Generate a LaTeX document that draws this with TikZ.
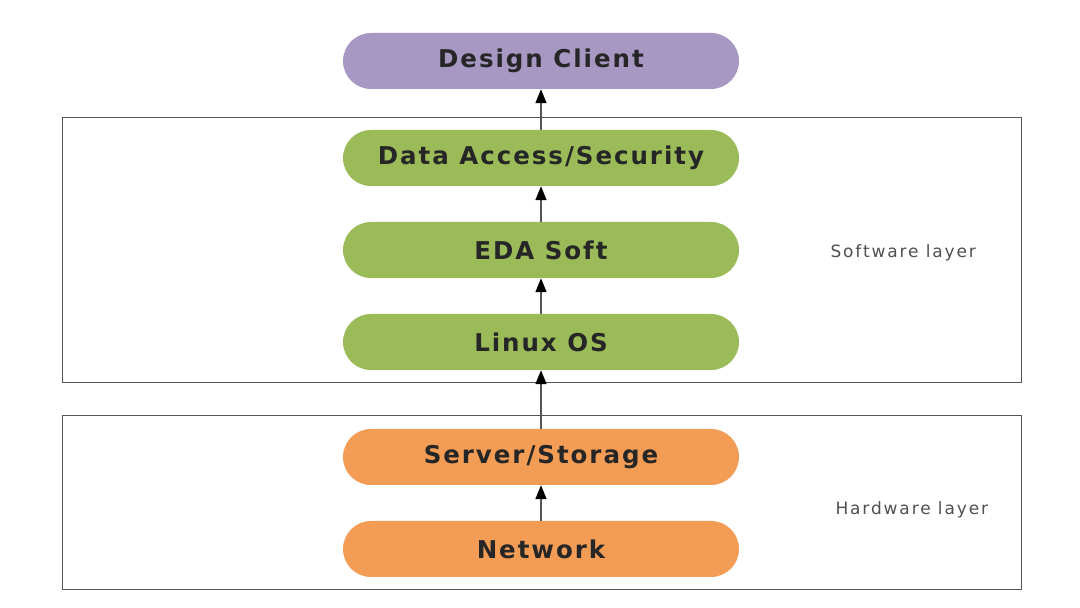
\documentclass[tikz,border=0pt]{standalone}
\usepackage{fontspec}
\setmainfont{DejaVu Sans}
\newfontfamily\pillfont[LetterSpace=8]{DejaVu Sans}
\newfontfamily\labelfont[LetterSpace=11]{DejaVu Sans}
\usetikzlibrary{arrows.meta,shapes.misc}
\definecolor{cpurple}{HTML}{A797C3}
\definecolor{cgreen}{HTML}{9BBB59}
\definecolor{corange}{HTML}{F39C55}
\definecolor{cline}{HTML}{555555}
\definecolor{clabel}{HTML}{505050}
\tikzset{
  pill/.style={rounded rectangle, minimum width=396pt, minimum height=56pt, inner sep=0pt,
    font=\pillfont\fontsize{24.5pt}{27pt}\selectfont\bfseries, text=black!85},
  layerbox/.style={draw=cline, line width=1pt},
  layerlabel/.style={font=\labelfont\fontsize{17pt}{20pt}\selectfont, text=clabel, anchor=west},
  flow/.style={draw=cline, line width=1.5pt, arrows={-Triangle[length=14pt,width=11pt,color=black]}}
}
\begin{document}
\begin{tikzpicture}[x=1pt,y=1pt]
\useasboundingbox (0,0) rectangle (1080,608);
\fill[white] (0,0) rectangle (1080,608);
% layer boxes
\draw[layerbox] (62,608-118) rectangle (1021,608-383);
\draw[layerbox] (62,608-416) rectangle (1021,608-590);
\node[layerlabel] (swl) at (827,608-253) {Software layer};
\node[layerlabel] (hwl) at (832,608-510) {Hardware layer};
% nodes
\node[pill, fill=cpurple] (dc) at (541,608-61) {Design Client};
\node[pill, fill=cgreen] (das) at (541,608-158) {Data Access/Security};
\node[pill, fill=cgreen] (eda) at (541,608-250) {EDA Soft};
\node[pill, fill=cgreen] (lin) at (541,608-342) {Linux OS};
\node[pill, fill=corange] (srv) at (541,608-457) {Server/Storage};
\node[pill, fill=corange] (net) at (541,608-549) {Network};
% arrows
\draw[flow] (das.north) -- (dc.south);
\draw[flow] (eda.north) -- (das.south);
\draw[flow] (lin.north) -- (eda.south);
\draw[flow] (srv.north) -- (lin.south);
\draw[flow] (net.north) -- (srv.south);
\end{tikzpicture}
\end{document}
